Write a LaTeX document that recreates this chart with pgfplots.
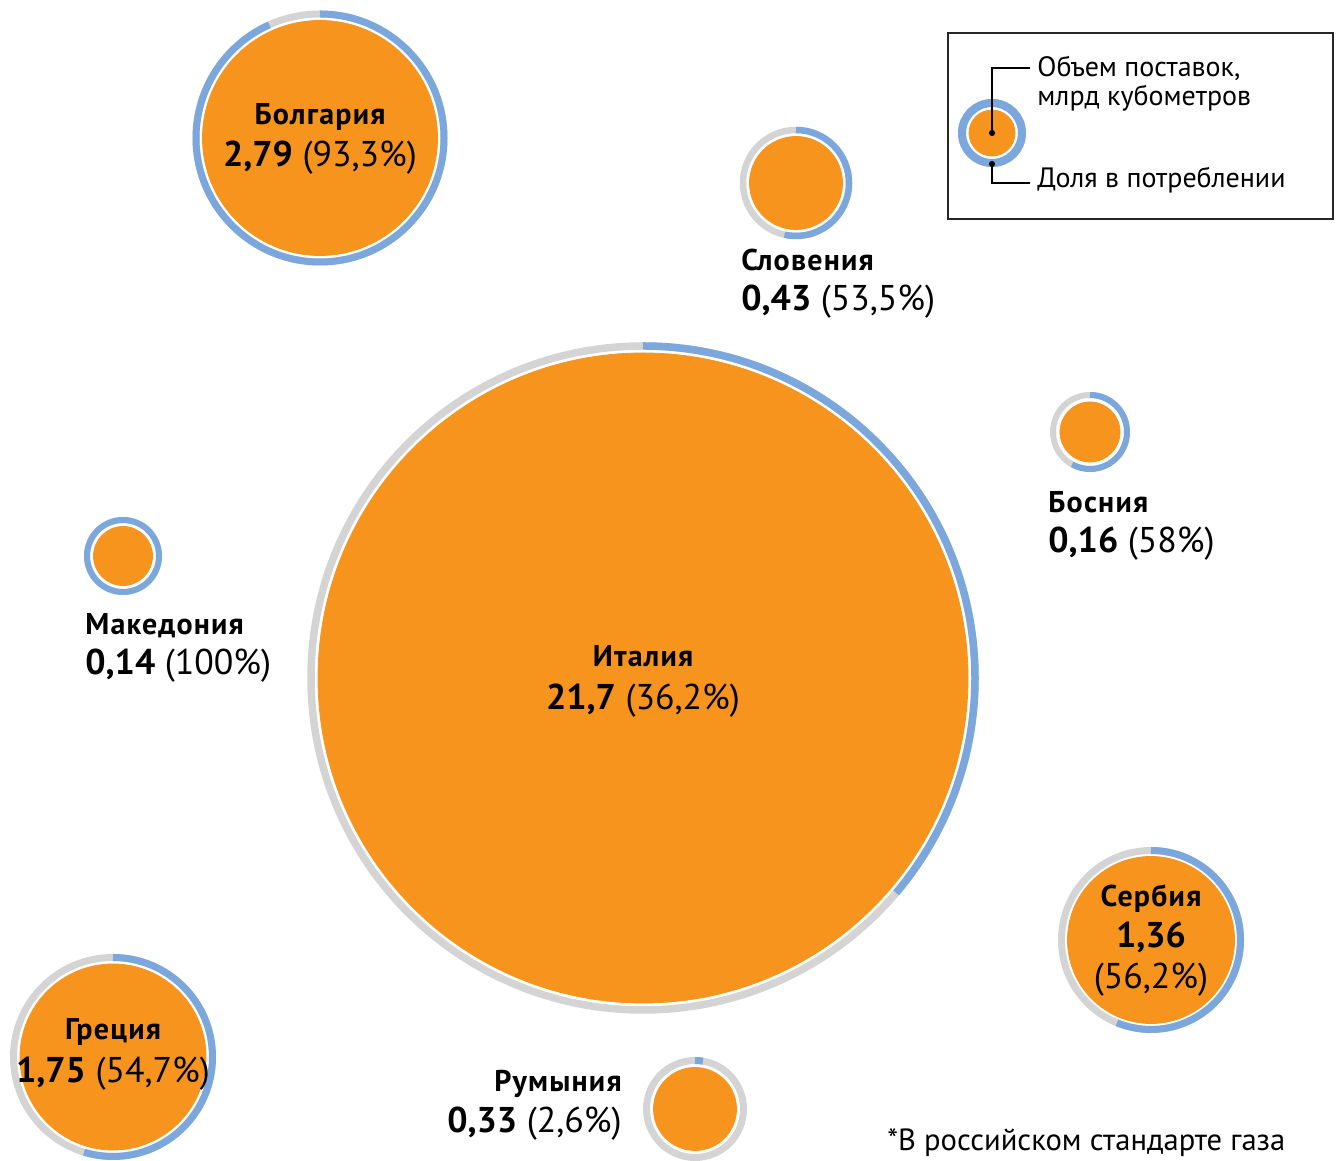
\documentclass[border=0pt]{standalone}
\usepackage{fontspec}
\setmainfont{PT Sans}
\usepackage{pgfplots}
\usepackage{pgfplotstable}
\pgfplotsset{compat=1.18}
\definecolor{gorange}{HTML}{F7941E}
\definecolor{gblue}{HTML}{7BA7DC}
\definecolor{ggrey}{HTML}{D4D4D4}
\newcommand{\nmfont}{\fontsize{15}{17}\selectfont\bfseries\addfontfeatures{LetterSpace=4}}
\newcommand{\nbfont}{\fontsize{17.9}{20}\selectfont}
\newcommand{\lgfont}{\fontsize{14}{15}\selectfont}
% x y r(orange) R(ring centre line) w(ring width) s(share)  -- pixel units
\pgfplotstableread{
x    y    r     R     w    s
320  1023 117.5 124   7    0.933
796  978  46.5  53    6.5  0.535
643  483  325   332   7.5  0.362
1090 729  30    37    6    0.58
123  605  29.5  36    6    1.0
1151 221  83.5  89.5  7    0.562
113  104  93    99.5  7    0.547
695  52   41.5  48.5  7    0.026
992  1028 23    30    8    1.0
}\bubbles
\begin{document}
\begin{tikzpicture}
\begin{axis}[
  x=0.5pt, y=0.5pt,
  xmin=0, xmax=1339, ymin=0, ymax=1161,
  hide axis, clip=false, set layers,
]
% legend box
\draw[line width=1pt, black!85] (axis cs:948,942) rectangle (axis cs:1333,1128);
\addplot[
  scatter, only marks, mark=*, mark size=0pt, color=gorange,
  visualization depends on={\thisrow{r} \as \vr},
  visualization depends on={\thisrow{R} \as \vR},
  visualization depends on={\thisrow{w} \as \vw},
  visualization depends on={\thisrow{s} \as \vs},
  scatter/@pre marker code/.code={%
    \fill[gorange] (0pt,0pt) circle[radius=\vr*0.5pt];
    \draw[ggrey, line width=\vw*0.5pt] (0pt,0pt) circle[radius=\vR*0.5pt];
    \draw[gblue, line width=\vw*0.5pt] (90:\vR*0.5pt) arc[start angle=90, delta angle=-360*\vs, radius=\vR*0.5pt];
  },
  scatter/@post marker code/.code={},
] table[x=x, y=y] {\bubbles};
\begin{pgfonlayer}{axis foreground}
% legend leader lines and dots
\draw[line width=0.8pt, black] (axis cs:992,1028) -- (axis cs:992,1093) -- (axis cs:1030,1093);
\draw[line width=0.8pt, black] (axis cs:992,997) -- (axis cs:992,978) -- (axis cs:1030,978);
\end{pgfonlayer}
\addplot[only marks, mark=*, mark size=1.3pt, black, on layer=axis foreground] coordinates {(992,1028) (992,997)};
\begin{pgfonlayer}{axis foreground}
\node[anchor=base west, inner sep=0] at (axis cs:1037,1084) {\lgfont Объем поставок,};
\node[anchor=base west, inner sep=0] at (axis cs:1037,1055) {\lgfont млрд кубометров};
\node[anchor=base west, inner sep=0] at (axis cs:1037,973) {\lgfont Доля в потреблении};
% labels
\node[anchor=base, inner sep=0] at (axis cs:320,1036) {\nmfont Болгария};
\node[anchor=base, inner sep=0] at (axis cs:320,994) {\nbfont\textbf{2,79} (93,3\%)};
\node[anchor=base west, inner sep=0] at (axis cs:741,890) {\nmfont Словения};
\node[anchor=base west, inner sep=0] at (axis cs:741,850) {\nbfont\textbf{0,43} (53,5\%)};
\node[anchor=base west, inner sep=0] at (axis cs:1048,648) {\nmfont Босния};
\node[anchor=base west, inner sep=0] at (axis cs:1048,608) {\nbfont\textbf{0,16} (58\%)};
\node[anchor=base west, inner sep=0] at (axis cs:85,526) {\nmfont Македония};
\node[anchor=base west, inner sep=0] at (axis cs:85,486) {\nbfont\textbf{0,14} (100\%)};
\node[anchor=base, inner sep=0] at (axis cs:643,494) {\nmfont Италия};
\node[anchor=base, inner sep=0] at (axis cs:643,451) {\nbfont\textbf{21,7} (36,2\%)};
\node[anchor=base, inner sep=0] at (axis cs:1151,254) {\nmfont Сербия};
\node[anchor=base, inner sep=0] at (axis cs:1151,213) {\nbfont\textbf{1,36}};
\node[anchor=base, inner sep=0] at (axis cs:1151,172) {\nbfont(56,2\%)};
\node[anchor=base, inner sep=0] at (axis cs:113,121) {\nmfont Греция};
\node[anchor=base, inner sep=0] at (axis cs:113,78) {\nbfont\textbf{1,75} (54,7\%)};
\node[anchor=base east, inner sep=0] at (axis cs:622,69) {\nmfont Румыния};
\node[anchor=base east, inner sep=0] at (axis cs:622,28) {\nbfont\textbf{0,33} (2,6\%)};
\node[anchor=base west, inner sep=0] at (axis cs:887,10) {\fontsize{15.3}{17}\selectfont *В российском стандарте газа};
\end{pgfonlayer}
\end{axis}
\pgfresetboundingbox
\path (0pt,0pt) rectangle (669.5pt,580.5pt);
\end{tikzpicture}
\end{document}
